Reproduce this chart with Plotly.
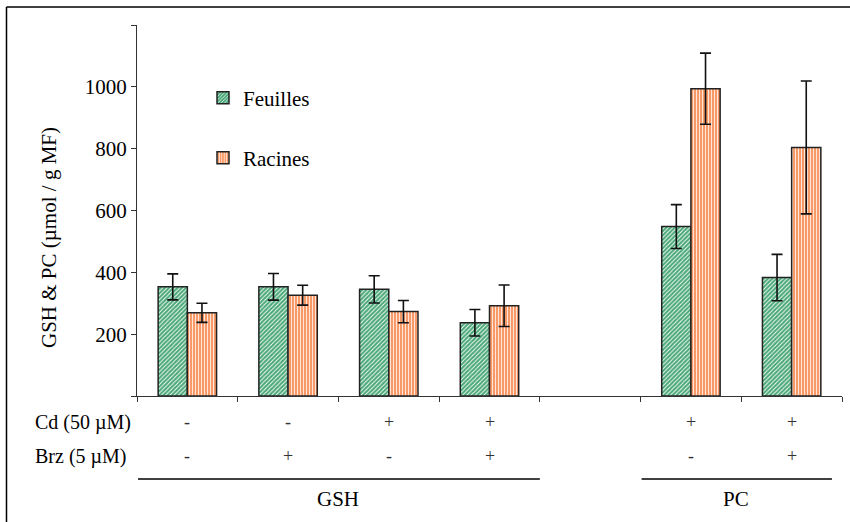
import plotly.graph_objects as go

# ---- data ----
positions = [1, 2, 3, 4, 5, 6, 7]
feuilles = [353, 353, 345, 237, None, 548, 383]
feuilles_err = [42, 43, 44, 43, 0, 71, 75]
racines = [269, 326, 273, 292, None, 994, 804]
racines_err = [31, 32, 36, 67, 0, 115, 215]
cd_signs = ["-", "-", "+", "+", "", "+", "+"]
brz_signs = ["-", "+", "-", "+", "", "-", "+"]
ytick_vals = [0, 200, 400, 600, 800, 1000, 1200]
ytick_text = ["", "200", "400", "600", "800", "1000", ""]
groups = [("GSH", 0.5, 4.5), ("PC", 5.5, 7.4)]

FONT = "Liberation Serif, Times New Roman, Times, serif"
W, H = 850, 522
# plot area in reference pixel coordinates
X0, X1, Y0, Y1 = 137, 842, 25, 396
L, T = X0, Y0
R = W - X1
B = H - Y1
PW, PH = X1 - X0, Y1 - Y0


def px_x(px):
    return (px - X0) / PW


def px_y(py):
    return (Y1 - py) / PH


fig = go.Figure()
fig.add_trace(go.Bar(
    x=positions, y=feuilles, name="Feuilles", legend="legend",
    marker=dict(color="#4aa878", line=dict(color="#222", width=1.5),
                pattern=dict(shape="/", fgcolor="white", bgcolor="#4aa878",
                             size=3, solidity=0.3, fillmode="replace")),
    error_y=dict(type="data", array=feuilles_err, color="#111", thickness=1.6, width=5.5),
))
fig.add_trace(go.Bar(
    x=positions, y=racines, name="Racines", legend="legend2",
    marker=dict(color="#f89a68", line=dict(color="#222", width=1.5),
                pattern=dict(shape="|", fgcolor="white", bgcolor="#f89a68",
                             size=3, solidity=0.25, fillmode="replace")),
    error_y=dict(type="data", array=racines_err, color="#111", thickness=1.6, width=5.5),
))

annotations = []
# row labels
annotations.append(dict(text="Cd (50 µM)", x=px_x(33), y=px_y(422), xref="paper", yref="paper",
                        xanchor="left", yanchor="middle", showarrow=False,
                        font=dict(family=FONT, size=20, color="black")))
annotations.append(dict(text="Brz (5 µM)", x=px_x(33), y=px_y(456), xref="paper", yref="paper",
                        xanchor="left", yanchor="middle", showarrow=False,
                        font=dict(family=FONT, size=20, color="black")))
for p, c, b in zip(positions, cd_signs, brz_signs):
    if c:
        annotations.append(dict(text=c, x=p, y=px_y(422), xref="x", yref="paper",
                                showarrow=False, yanchor="middle",
                                font=dict(family=FONT, size=18, color="#333")))
    if b:
        annotations.append(dict(text=b, x=p, y=px_y(456), xref="x", yref="paper",
                                showarrow=False, yanchor="middle",
                                font=dict(family=FONT, size=18, color="#333")))

shapes = []
for name, x0, x1 in groups:
    shapes.append(dict(type="line", xref="x", yref="paper", x0=x0 + 0.01, x1=x1,
                       y0=px_y(479), y1=px_y(479), line=dict(color="black", width=1.5)))
    annotations.append(dict(text=name, x=(x0 + x1) / 2, y=px_y(499), xref="x", yref="paper",
                            showarrow=False, yanchor="middle",
                            font=dict(family=FONT, size=21, color="black")))

# y title
annotations.append(dict(text="GSH & PC (µmol / g MF)", x=px_x(49), y=px_y(238),
                        xref="paper", yref="paper", textangle=-90, showarrow=False,
                        xanchor="center", yanchor="middle",
                        font=dict(family=FONT, size=21, color="black")))

# outer frame (left and top edges visible)
shapes.append(dict(type="line", xref="paper", yref="paper", x0=px_x(6.5), x1=px_x(6.5),
                   y0=px_y(7), y1=px_y(540), line=dict(color="black", width=1.5)))
shapes.append(dict(type="line", xref="paper", yref="paper", x0=px_x(6.5), x1=px_x(870),
                   y0=px_y(7), y1=px_y(7), line=dict(color="black", width=1.5)))

fig.update_layout(
    width=W, height=H,
    margin=dict(l=L, r=R, t=T, b=B, pad=0),
    paper_bgcolor="white", plot_bgcolor="white",
    barmode="group", bargap=0.42, bargroupgap=0,
    font=dict(family=FONT, size=21, color="black"),
    xaxis=dict(range=[0.5, 7.5], tickvals=[0.5 + i for i in range(8)], showticklabels=False,
               ticks="outside", ticklen=5, tickcolor="#333", showline=True, linecolor="#333",
               linewidth=1, showgrid=False, zeroline=False),
    yaxis=dict(range=[0, 1200], tickvals=ytick_vals, ticktext=ytick_text, ticks="outside",
               ticklen=5, tickcolor="#333", showline=True, linecolor="#333", linewidth=1,
               showgrid=False, zeroline=False, tickfont=dict(family=FONT, size=21)),
    legend=dict(x=px_x(203), y=px_y(98), xanchor="left", yanchor="middle",
                bgcolor="rgba(0,0,0,0)", font=dict(family=FONT, size=21)),
    legend2=dict(x=px_x(203), y=px_y(158), xanchor="left", yanchor="middle",
                 bgcolor="rgba(0,0,0,0)", font=dict(family=FONT, size=21)),
    annotations=annotations,
    shapes=shapes,
    showlegend=True,
)

fig.write_html("out.html", config=dict(displayModeBar=False),
               post_script="document.body.style.margin='0';")
